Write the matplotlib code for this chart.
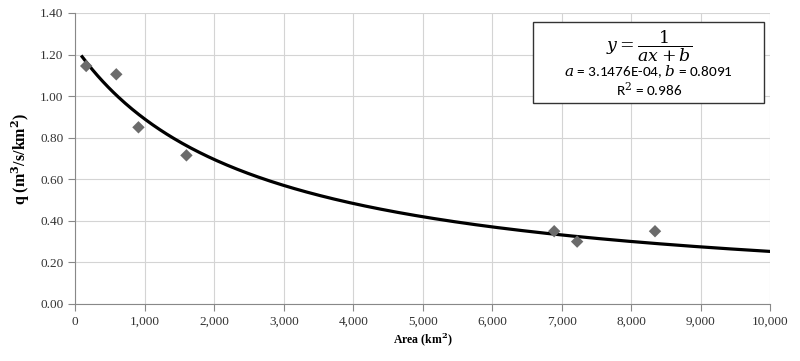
#!/usr/bin/env python3

import matplotlib
matplotlib.use("Agg")
import matplotlib.pyplot as plt
import numpy as np

# observed points (area in km2, specific discharge q)
area_obs = [158, 591, 910, 1600, 6890, 7220, 8340]
q_obs = [1.145, 1.105, 0.85, 0.715, 0.35, 0.30, 0.35]

# fitted curve parameters shown in the box
fit_a = 3.1476e-04
fit_b = 0.8091
fit_r2 = 0.986
fit_x_start = 100
fit_x_end = 10000

x_ticks = list(range(0, 10001, 1000))
y_ticks = [0.0, 0.2, 0.4, 0.6, 0.8, 1.0, 1.2, 1.4]


def main():
    plt.rcParams["font.family"] = ["Liberation Serif", "DejaVu Serif"]
    plt.rcParams["mathtext.fontset"] = "dejavuserif"

    fig = plt.figure(figsize=(8.0, 3.61), dpi=100)
    ax = fig.add_axes([0.094, 0.158, 0.869, 0.806])

    xs = np.linspace(fit_x_start, fit_x_end, 400)
    ax.plot(xs, 1.0 / (fit_a * xs + fit_b), color="black", lw=2.3, zorder=3)
    ax.scatter(area_obs, q_obs, marker="D", s=40, color="#6b6b6b",
               edgecolors="none", zorder=4)

    ax.set_xlim(0, 10000)
    ax.set_ylim(0, 1.4)
    ax.set_xticks(x_ticks)
    ax.set_xticklabels([f"{v:,}" for v in x_ticks])
    ax.set_yticks(y_ticks)
    ax.set_yticklabels([f"{v:.2f}" for v in y_ticks])
    ax.tick_params(labelsize=9.5, colors="#888888", labelcolor="#333333",
                   length=5, width=0.8)
    ax.grid(True, color="#d4d4d4", lw=0.8)
    ax.set_axisbelow(True)
    for side in ["top", "right"]:
        ax.spines[side].set_visible(False)
    for side in ["left", "bottom"]:
        ax.spines[side].set_color("#888888")

    ax.set_xlabel("Area (km$^\\mathbf{2}$)", fontsize=8.5, fontweight="bold",
                  labelpad=2)
    ax.set_ylabel("q (m$^\\mathbf{3}$/s/km$^\\mathbf{2}$)", fontsize=11.5,
                  fontweight="bold", labelpad=6)

    # equation box
    box = plt.Rectangle((0.658, 0.691), 0.333, 0.278, transform=ax.transAxes,
                        facecolor="white", edgecolor="#333333", lw=1.0,
                        zorder=5)
    ax.add_patch(box)
    ax.text(0.825, 0.886, r"$y = \dfrac{1}{ax + b}$", transform=ax.transAxes,
            ha="center", va="center", fontsize=12.5, zorder=6)
    ax.text(0.825, 0.80, f"$a$ = {fit_a:.4E}" + f", $b$ = {fit_b:.4f}",
            transform=ax.transAxes, ha="center", va="center", fontsize=11,
            family=["Carlito", "DejaVu Sans"], zorder=6)
    ax.text(0.825, 0.738, f"R$^2$ = {fit_r2:.3f}", transform=ax.transAxes,
            ha="center", va="center", fontsize=11,
            family=["Carlito", "DejaVu Sans"], zorder=6)

    fig.savefig("out.png", dpi=100)


if __name__ == "__main__":
    main()
